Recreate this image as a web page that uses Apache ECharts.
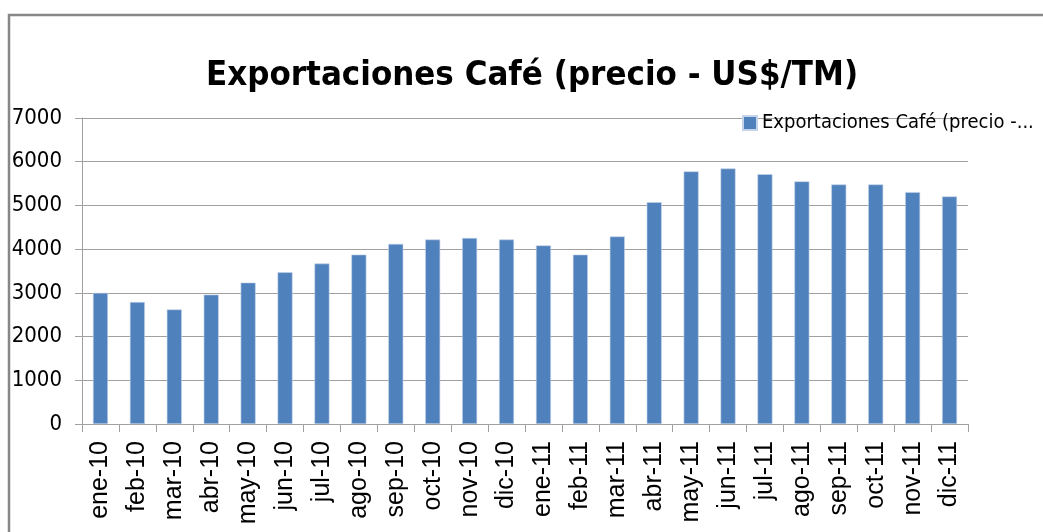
<!DOCTYPE html>
<html>
<head>
<meta charset="utf-8">
<script src="https://cdn.jsdelivr.net/npm/echarts@6/dist/echarts.min.js"></script>
<style>
  html, body { margin: 0; padding: 0; background: #fff; }
  #chart { width: 1043px; height: 532px; }
</style>
</head>
<body>
<div id="chart"></div>
<script>
// datos
const months = ['ene-10', 'feb-10', 'mar-10', 'abr-10', 'may-10', 'jun-10', 'jul-10', 'ago-10',
  'sep-10', 'oct-10', 'nov-10', 'dic-10', 'ene-11', 'feb-11', 'mar-11', 'abr-11', 'may-11',
  'jun-11', 'jul-11', 'ago-11', 'sep-11', 'oct-11', 'nov-11', 'dic-11']
const precios = [3000, 2790, 2620, 2960, 3235, 3470, 3670, 3875, 4120, 4220, 4255, 4220,
  4085, 3875, 4290, 5075, 5780, 5845, 5715, 5550, 5480, 5480, 5305, 5205]
const yTicks = [0, 1000, 2000, 3000, 4000, 5000, 6000, 7000]

const serieNombre = 'Exportaciones Café (precio - US$/TM)'
const narrow = "'Liberation Sans Narrow', 'DejaVu Sans Condensed', sans-serif"
const gris = '#a0a0a0'

const chart = echarts.init(document.getElementById('chart'))
chart.setOption({
  animation: false,
  title: {
    text: serieNombre,
    left: 201,
    top: 54,
    textStyle: { fontFamily: narrow, fontSize: 34.5, fontWeight: 'bold', color: '#000' }
  },
  legend: {
    left: 737,
    top: 108,
    itemWidth: 14,
    itemHeight: 14,
    icon: 'rect',
    formatter: () => 'Exportaciones Café (precio -...',
    textStyle: { fontFamily: narrow, fontSize: 20, color: '#000' }
  },
  grid: { left: 82, right: 75, top: 118, bottom: 108 },
  xAxis: {
    type: 'category',
    data: months,
    axisLine: { lineStyle: { color: gris, width: 1 } },
    axisTick: { show: true, length: 8, lineStyle: { color: gris } },
    axisLabel: {
      interval: 0,
      rotate: 90,
      margin: 17,
      fontFamily: "'Liberation Sans', Arial, sans-serif",
      fontSize: 25,
      color: '#000'
    }
  },
  yAxis: {
    type: 'value',
    min: yTicks[0],
    max: yTicks[yTicks.length - 1],
    interval: 1000,
    axisLine: { show: true, lineStyle: { color: gris, width: 1 } },
    axisTick: { show: true, length: 7, lineStyle: { color: gris } },
    axisLabel: {
      margin: 20,
      fontFamily: narrow,
      fontSize: 22,
      color: '#000',
      formatter: v => String(v)
    },
    splitLine: { lineStyle: { color: gris, width: 1 } }
  },
  series: [{
    name: serieNombre,
    type: 'bar',
    data: precios,
    barWidth: 15,
    itemStyle: { color: '#4f81bd', borderColor: '#c5d4ea', borderWidth: 0.6 }
  }],
  graphic: [{
    type: 'rect',
    silent: true,
    shape: { x: 9, y: 15, width: 1200, height: 700 },
    style: { fill: 'none', stroke: '#878787', lineWidth: 2.5 }
  }]
})
</script>
</body>
</html>
